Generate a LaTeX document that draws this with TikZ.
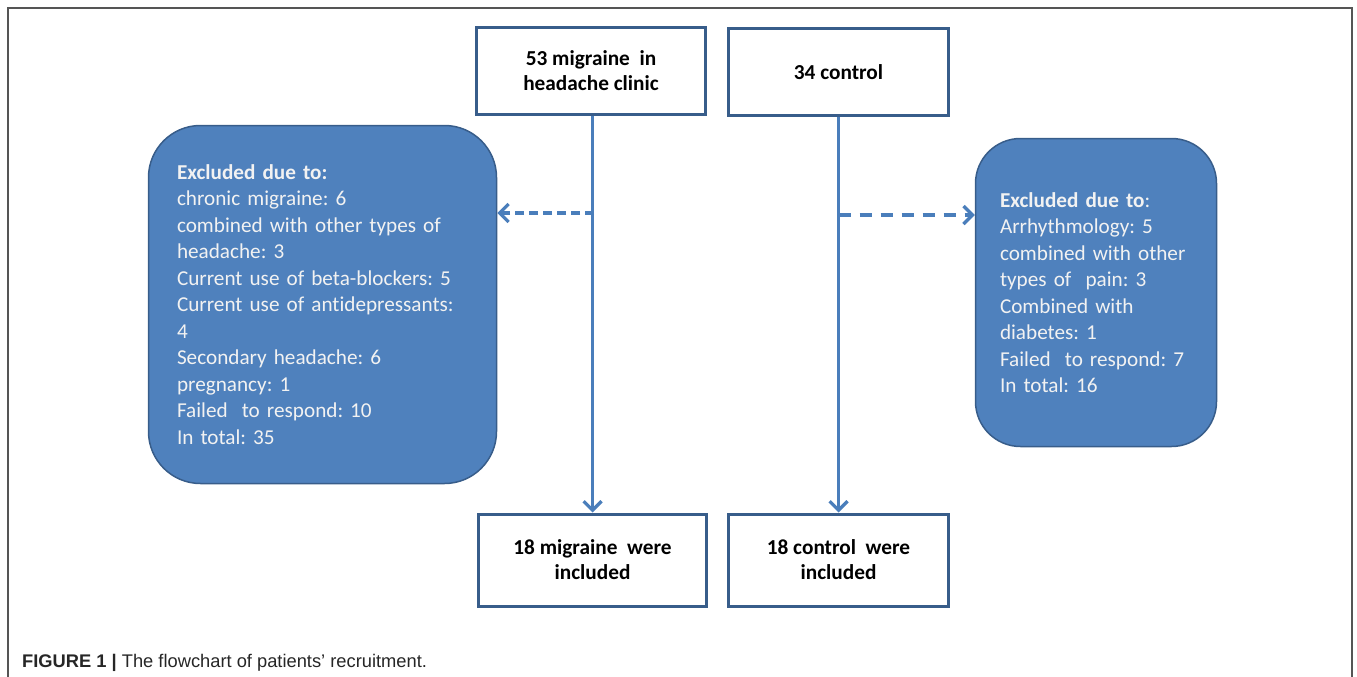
\documentclass[tikz,border=0pt]{standalone}
\usepackage{fontspec}
\setmainfont{Carlito}[Ligatures=NoCommon]
\newfontfamily\capfont{Liberation Sans}
\usetikzlibrary{arrows.meta}
\frenchspacing
\definecolor{boxblue}{HTML}{4F81BD}
\definecolor{edgeblue}{HTML}{385D8A}
\definecolor{arrowblue}{HTML}{4A7EBB}
\definecolor{framegray}{HTML}{555555}
\tikzset{
 countbox/.style={draw=edgeblue,line width=3pt,fill=white,align=center,
   font=\bfseries\fontsize{21.3}{25}\selectfont},
 exclbox/.style={draw=edgeblue,line width=1.5pt,fill=boxblue,text=white!95!black,
   align=left,inner sep=0pt,font=\fontsize{21.2}{26.5}\selectfont},
 flow/.style={arrowblue,line width=3.4pt,-{Straight Barb[length=9pt,width=18pt,line width=3.2pt]}},
 skipflow/.style={flow,dash pattern=on 9pt off 5pt}
}
\begin{document}
\begin{tikzpicture}[x=1pt,y=-1pt]
 \useasboundingbox (0,0) rectangle (1357,677);
 % frame round the figure
 \draw[framegray,line width=1.5pt](8,677)--(8,8)--(1352,8)--(1352,677);
 % top boxes
 \node[countbox,minimum width=229pt,minimum height=86pt](mig) at (591,71) {53 migraine\ \ in\\headache clinic};
 \node[countbox,minimum width=220pt,minimum height=87pt](ctl) at (838.5,72) {34 control};
 % bottom boxes
 \node[countbox,minimum width=228pt,minimum height=92pt](inm) at (592.5,560) {18 migraine\ \ were\\included};
 \node[countbox,minimum width=220pt,minimum height=92pt](inc) at (838.5,560) {18 control\ \ were\\included};
 % exclusions
 \node[exclbox,rounded corners=52pt,minimum width=348pt,minimum height=358pt,text width=291pt](exm) at (322.5,304.5)
  {\textbf{Excluded due to:}\\chronic migraine: 6\\combined with other types of\\headache: 3\\Current use of beta-blockers: 5\\Current use of antidepressants:\\4\\Secondary headache: 6\\pregnancy: 1\\Failed\ \ to respond: 10\\In total: 35};
 \node[exclbox,rounded corners=45pt,minimum width=241pt,minimum height=308pt,text width=192pt](exc) at (1096,292.5)
  {\textbf{Excluded due to}:\\Arrhythmology: 5\\combined with other\\types of\ \ pain: 3\\Combined with\\diabetes: 1\\Failed\ \ to respond: 7\\In total: 16};
 % connectors
 \coordinate (offm) at (594,213);
 \coordinate (offc) at (838.5,215);
 \draw[flow](inm.north |- mig.south)--(inm.north);
 \draw[flow](inc.north |- ctl.south)--(inc.north);
 \draw[skipflow](offm)--(exm.east |- offm);
 \draw[skipflow,dash pattern=on 12pt off 9pt](offc)--(exc.west |- offc);
 % caption
 \node[anchor=base west,inner sep=0pt,font=\capfont\fontsize{18.3}{21}\selectfont,text=black!85](cap) at (22,667)
  {\textbf{FIGURE 1 |} The flowchart of patients’ recruitment.};
\end{tikzpicture}
\end{document}
